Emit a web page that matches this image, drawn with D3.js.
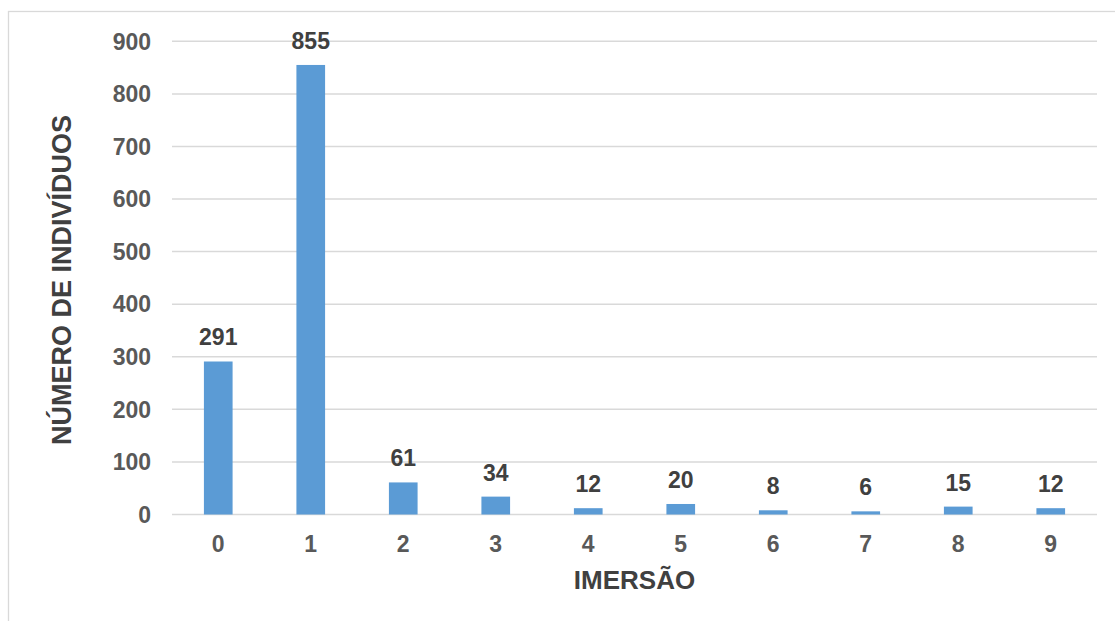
<!DOCTYPE html>
<html>
<head>
<meta charset="utf-8">
<script src="https://cdn.jsdelivr.net/npm/d3@7"></script>
<style>
  html, body { margin: 0; padding: 0; background: #ffffff; }
  svg { display: block; font-family: "Liberation Sans", Arial, sans-serif; }
</style>
</head>
<body>
<svg id="chart" width="1115" height="621"></svg>
<script>
// Number of individuals per immersion count
const categories = ["0", "1", "2", "3", "4", "5", "6", "7", "8", "9"];
const counts = [291, 855, 61, 34, 12, 20, 8, 6, 15, 12];
const yTicks = [0, 100, 200, 300, 400, 500, 600, 700, 800, 900];
const xTitle = "IMERSÃO";
const yTitle = "NÚMERO DE INDIVÍDUOS";

const svg = d3.select("#chart");
const W = 1115, H = 621;
const plot = { left: 172, right: 1097, top: 41.3, bottom: 514.5 };

// outer frame of the chart area
svg.append("rect")
  .attr("x", 8.5).attr("y", 11.5)
  .attr("width", W + 10).attr("height", H + 10)
  .attr("fill", "#ffffff")
  .attr("stroke", "#d9d9d9").attr("stroke-width", 1.3);

const x = d3.scaleBand()
  .domain(categories)
  .range([plot.left, plot.right])
  .paddingInner(0.69)
  .paddingOuter(0.345);

const y = d3.scaleLinear()
  .domain([0, 900])
  .range([plot.bottom, plot.top]);

// horizontal gridlines
svg.append("g")
  .selectAll("line")
  .data(yTicks)
  .join("line")
  .attr("x1", plot.left).attr("x2", plot.right)
  .attr("y1", d => y(d)).attr("y2", d => y(d))
  .attr("stroke", "#d9d9d9").attr("stroke-width", 1.5);

// y tick labels
svg.append("g")
  .selectAll("text")
  .data(yTicks)
  .join("text")
  .attr("x", 151)
  .attr("y", d => y(d))
  .attr("dy", "0.36em")
  .attr("text-anchor", "end")
  .attr("font-size", 23).attr("font-weight", "bold")
  .attr("fill", "#595959")
  .text(d => d);

// x tick labels
svg.append("g")
  .selectAll("text")
  .data(categories)
  .join("text")
  .attr("x", d => x(d) + x.bandwidth() / 2)
  .attr("y", 552)
  .attr("text-anchor", "middle")
  .attr("font-size", 23).attr("font-weight", "bold")
  .attr("fill", "#595959")
  .text(d => d);

// bars
svg.append("g")
  .selectAll("rect")
  .data(counts)
  .join("rect")
  .attr("x", (d, i) => x(categories[i]))
  .attr("y", d => y(d))
  .attr("width", x.bandwidth())
  .attr("height", d => y(0) - y(d))
  .attr("fill", "#5b9bd5");

// value labels above bars
svg.append("g")
  .selectAll("text")
  .data(counts)
  .join("text")
  .attr("x", (d, i) => x(categories[i]) + x.bandwidth() / 2)
  .attr("y", d => y(d) - 16)
  .attr("text-anchor", "middle")
  .attr("font-size", 23).attr("font-weight", "bold")
  .attr("fill", "#404040")
  .text(d => d);

// axis titles
svg.append("text")
  .attr("x", (plot.left + plot.right) / 2)
  .attr("y", 589)
  .attr("text-anchor", "middle")
  .attr("font-size", 26).attr("font-weight", "bold")
  .attr("fill", "#404040")
  .text(xTitle);

svg.append("text")
  .attr("transform", `translate(70.5, ${(plot.top + plot.bottom) / 2 + 2}) rotate(-90)`)
  .attr("text-anchor", "middle")
  .attr("font-size", 27).attr("font-weight", "bold")
  .attr("fill", "#404040")
  .text(yTitle);
</script>
</body>
</html>
